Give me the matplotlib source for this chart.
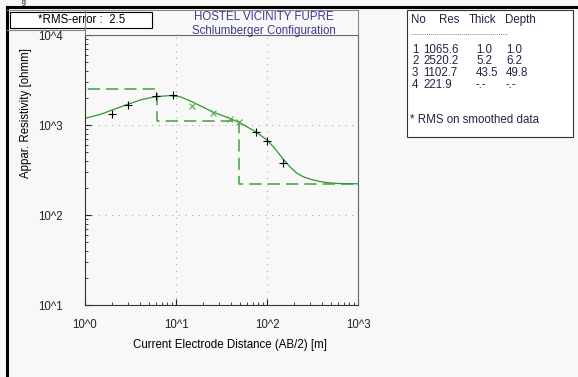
import numpy as np
import matplotlib.pyplot as plt
from matplotlib.patches import Rectangle
from matplotlib.lines import Line2D

plt.rcParams['font.family'] = ['Liberation Sans', 'DejaVu Sans']

# field data (black +) and smoothed points (green x)
field_ab2 = [2.0, 3.0, 6.0, 9.2, 75.5, 100.7, 148.6]
field_rho = [1320, 1680, 2120, 2170, 830, 670, 380]
smooth_ab2 = [14.9, 25.3, 39.0, 49.0]
smooth_rho = [1630, 1350, 1175, 1080]

# calculated curve
curve_ab2 = [1.0, 1.5, 2.0, 3.0, 4.3, 6.0, 8.4, 11, 15, 25, 39, 50, 75, 100,
             120, 150, 180, 213, 250, 300, 370, 455, 600, 1000]
curve_rho = [1185, 1320, 1470, 1710, 1930, 2065, 2120, 2065, 1815, 1405,
             1185, 1062, 843, 681, 560, 420, 340, 292, 266, 250, 237, 229,
             224, 222]

# layer model
layer_no = [1, 2, 3, 4]
layer_res = [1065.6, 2520.2, 1102.7, 221.9]
layer_thick = ['1.0', '5.2', '43.5', '-.-']
layer_depth = ['1.0', '6.2', '49.8', '-.-']
rms_error = 2.5

title_col = '#3b3b8f'
green = '#2e9a2e'
fs = 8.3

fig = plt.figure(figsize=(5.78, 3.77), dpi=100)
fig.patch.set_facecolor('#f8f8f8')

ax = fig.add_axes([85 / 578, 1 - 305 / 377, 273 / 578, 270 / 377])
ax.set_facecolor('#f8f8f8')
ax.set_xscale('log')
ax.set_yscale('log')
ax.set_xlim(1, 1000)
ax.set_ylim(10, 10000)

# model as step line
step_x = [1.0]
step_y = [layer_res[0]]
for i in range(1, len(layer_res)):
    d = float(layer_depth[i - 1])
    if d <= 1.0:
        step_x.append(1.0)
        step_y.append(layer_res[i])
    else:
        step_x += [d, d]
        step_y += [layer_res[i - 1], layer_res[i]]
step_x.append(1000)
step_y.append(layer_res[-1])
ax.plot(step_x, step_y, color='#4a9a4a', lw=1.1, ls=(0, (8, 4)))

ax.plot(curve_ab2, curve_rho, color=green, lw=0.9)
ax.plot(smooth_ab2, smooth_rho, ls='none', marker='x', ms=4, mew=0.8, color='#55aa55')
ax.plot(field_ab2, field_rho, ls='none', marker='+', ms=6, mew=0.8, color='black')

ax.grid(True, which='major', color='#aaaaaa', ls=(0, (1, 5)), lw=0.8)
ax.tick_params(which='both', direction='in', labelsize=fs, colors='#222222')
ax.tick_params(which='major', length=4)
ax.tick_params(which='minor', length=2)
ax.set_xticks([1, 10, 100, 1000])
ax.set_xticklabels(['10^0', '10^1', '10^2', '10^3'])
ax.set_yticks([10, 100, 1000, 10000])
ax.set_yticklabels(['10^1', '10^2', '10^3', '10^4'])
ax.tick_params(axis='x', pad=10)
ax.tick_params(axis='y', pad=16)
for s in ['top', 'right']:
    ax.spines[s].set_color('#666666')
for s in ['left', 'bottom']:
    ax.spines[s].set_color('#333333')
ax.set_xlabel('Current Electrode Distance (AB/2) [m]', fontsize=fs)
ax.xaxis.set_label_coords(0.531, -0.125)
ax.set_ylabel('Appar. Resistivity [ohmm]', fontsize=fs)
ax.yaxis.set_label_coords(-0.195, 0.71)

# frame lines
fig.add_artist(Line2D([7 / 578, 7 / 578], [0, 1 - 7 / 377], color='black', lw=2.2))
fig.add_artist(Line2D([7 / 578, 1], [1 - 7 / 377, 1 - 7 / 377], color='black', lw=2.2))
fig.add_artist(Line2D([7 / 578, 358 / 578], [1 - 10 / 377, 1 - 10 / 377], color='#888888', lw=0.8))
fig.add_artist(Line2D([7 / 578, 85 / 578], [1 - 30 / 377, 1 - 30 / 377], color='#888888', lw=0.8))
fig.add_artist(Line2D([85 / 578, 85 / 578], [1 - 35 / 377, 1 - 10 / 377], color='#888888', lw=0.8))
fig.add_artist(Line2D([358 / 578, 358 / 578], [1 - 35 / 377, 1 - 10 / 377], color='#888888', lw=0.8))

# RMS box
fig.add_artist(Rectangle((10 / 578, 1 - 28 / 377), 142 / 578, 16 / 377,
                         facecolor='white', edgecolor='black', lw=0.8))
fig.text(82 / 578, 1 - 20 / 377, f'*RMS-error :  {rms_error}', fontsize=fs,
         ha='center', va='center')

fig.text(264 / 578, 1 - 17 / 377, 'HOSTEL VICINITY FUPRE', fontsize=fs,
         ha='center', va='center', color=title_col)
fig.text(264 / 578, 1 - 31 / 377, 'Schlumberger Configuration', fontsize=fs,
         ha='center', va='center', color=title_col)

# caption fragment at the top edge
fig.text(22 / 578, 1 - 3 / 377, 'g', fontsize=5, ha='left', va='center')

# layer table
fig.add_artist(Rectangle((407 / 578, 1 - 137 / 377), 166 / 578, 127 / 377,
                         facecolor='white', edgecolor='#333333', lw=0.8))
tcol = '#222244'
fig.text(411 / 578, 1 - 20 / 377, 'No', fontsize=fs, va='center', color=tcol)
fig.text(439 / 578, 1 - 20 / 377, 'Res', fontsize=fs, va='center', color=tcol)
fig.text(469 / 578, 1 - 20 / 377, 'Thick', fontsize=fs, va='center', color=tcol)
fig.text(505 / 578, 1 - 20 / 377, 'Depth', fontsize=fs, va='center', color=tcol)
fig.add_artist(Line2D([411 / 578, 508 / 578], [1 - 34 / 377, 1 - 34 / 377],
                      color='#888888', lw=0.7, ls=(0, (1, 1))))
for i, n in enumerate(layer_no):
    y = 1 - (50 + 11.5 * i) / 377
    fig.text(412 / 578, y, str(n), fontsize=fs, va='center', color=tcol)
    fig.text(423 / 578, y, f'{layer_res[i]:.1f}', fontsize=fs, va='center', color=tcol)
    fig.text(476 / 578, y, layer_thick[i], fontsize=fs, va='center', color=tcol)
    fig.text(506 / 578, y, layer_depth[i], fontsize=fs, va='center', color=tcol)
fig.text(410 / 578, 1 - 120 / 377, '* RMS on smoothed data', fontsize=fs,
         va='center', color=tcol)

fig.savefig('out.png', dpi=100, facecolor=fig.get_facecolor())
